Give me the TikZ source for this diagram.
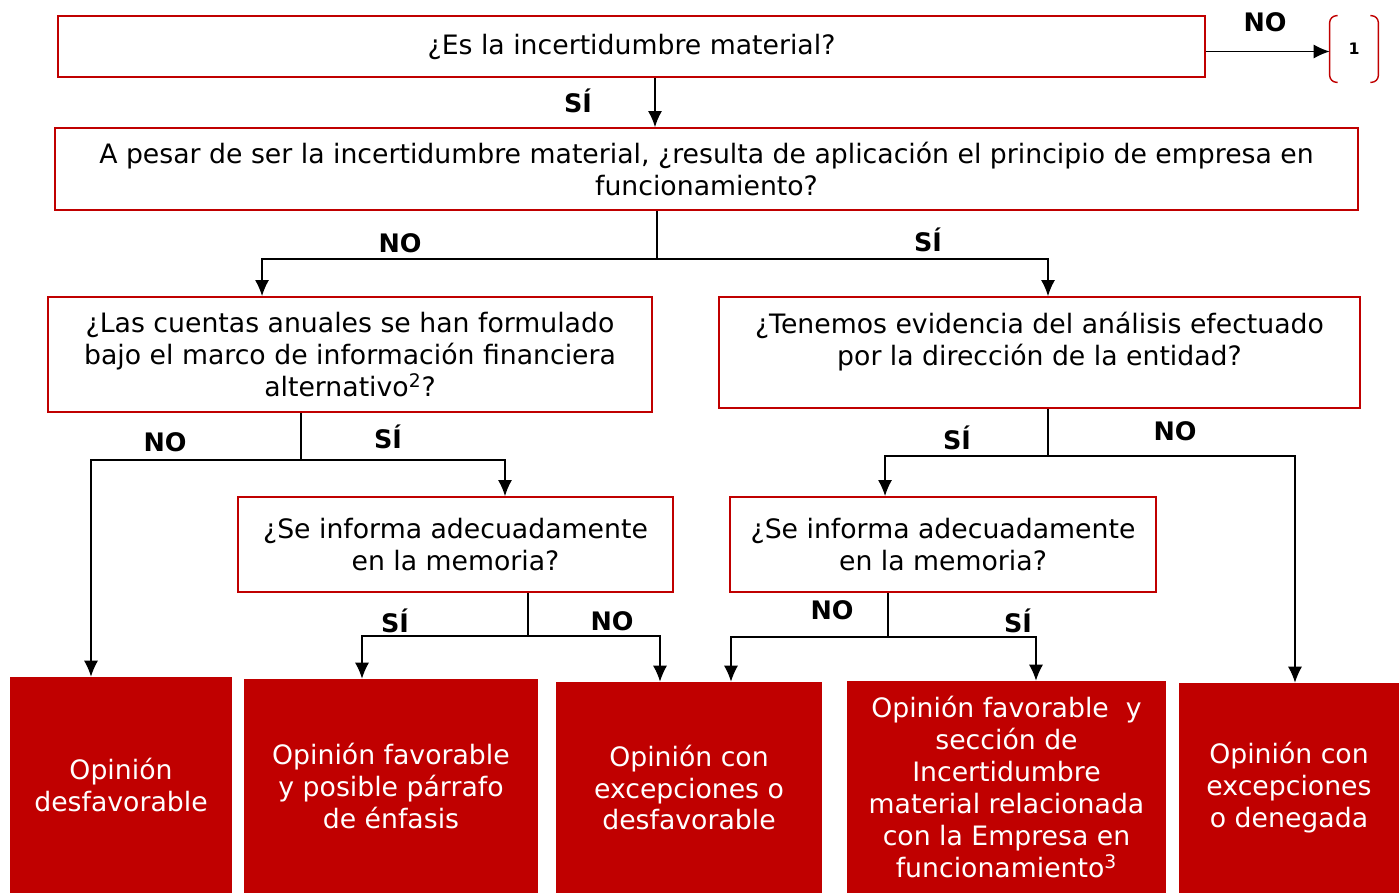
\documentclass[tikz,border=0pt]{standalone}
\usepackage{fontspec}
\setmainfont{DejaVu Sans}
\usetikzlibrary{arrows.meta}
\definecolor{kred}{HTML}{C00000}
\begin{document}
\begin{tikzpicture}[x=0.02cm,y=-0.02cm,
    box/.style={draw=kred,line width=1.1pt,align=center,inner sep=0pt,
      font=\fontsize{15.2pt}{18.2pt}\selectfont},
    endbox/.style={fill=kred,text=white,align=center,inner sep=0pt,
      font=\fontsize{15.2pt}{18.2pt}\selectfont},
    lbl/.style={font=\fontsize{14.5pt}{17pt}\selectfont\bfseries},
    arr/.style={-{Latex[length=0.32cm,width=0.28cm]},line width=0.7pt},
    brk/.style={draw=kred,line width=0.8pt,rounded corners=0.14cm}]
  \useasboundingbox (0,0) rectangle (1399,893);
  % questions
  \node[box,minimum width=22.94cm,minimum height=1.22cm] (q1) at (631.5,46.5)
    {¿Es la incertidumbre material?};
  \node[minimum width=0.96cm,minimum height=1.32cm,inner sep=0pt,
    font=\fontsize{9pt}{10pt}\selectfont\bfseries] (ref) at (1354,49) {1};
  \node[box,minimum width=26.06cm,minimum height=1.64cm] (q2) at (706.5,169)
    {A pesar de ser la incertidumbre material, ¿resulta de aplicación el principio de empresa en\\funcionamiento?};
  \node[box,minimum width=12.08cm,minimum height=2.3cm] (q3l) at (350,354.5)
    {¿Las cuentas anuales se han formulado\\bajo el marco de información financiera\\alternativo\textsuperscript{2}?};
  \node[box,minimum width=12.82cm,minimum height=2.22cm,text depth=0.53cm] (q3r) at (1039.5,352.5)
    {¿Tenemos evidencia del análisis efectuado\\por la dirección de la entidad?};
  \node[box,minimum width=8.7cm,minimum height=1.9cm] (q4l) at (455.5,544.5)
    {¿Se informa adecuadamente\\en la memoria?};
  \node[box,minimum width=8.52cm,minimum height=1.9cm] (q4r) at (943,544.5)
    {¿Se informa adecuadamente\\en la memoria?};
  % outcomes
  \node[endbox,minimum width=4.44cm,minimum height=4.32cm] (b1) at (121,785)
    {Opinión\\desfavorable};
  \node[endbox,minimum width=5.88cm,minimum height=4.28cm] (b2) at (391,786)
    {Opinión favorable\\y posible párrafo\\de énfasis};
  \node[endbox,minimum width=5.32cm,minimum height=4.22cm] (b3) at (689,787.5)
    {Opinión con\\excepciones o\\desfavorable};
  \node[endbox,minimum width=6.38cm,minimum height=4.24cm] (b4) at (1006.5,787)
    {Opinión favorable~ y\\sección de\\Incertidumbre\\material relacionada\\con la Empresa en\\funcionamiento\textsuperscript{3}};
  \node[endbox,minimum width=4.4cm,minimum height=4.2cm] (b5) at (1289,788)
    {Opinión con\\excepciones\\o denegada};
  % bracket round the reference
  \draw[brk] ([xshift=0.16cm]ref.north west) -- (ref.north west)
    -- (ref.south west) -- ([xshift=0.16cm]ref.south west);
  \draw[brk] ([xshift=-0.16cm]ref.north east) -- (ref.north east)
    -- (ref.south east) -- ([xshift=-0.16cm]ref.south east);
  % split points
  \coordinate (s1) at (657,259);
  \coordinate (s2) at (301,460);
  \coordinate (s3) at (1048,456);
  \coordinate (s4) at (528,636);
  \coordinate (s5) at (888,637);
  % connectors
  \draw[arr] ([yshift=-0.1cm]q1.east) -- ([yshift=-0.1cm]q1.east -| ref.west);
  \draw[arr] ([xshift=0.47cm]q1.south) -- ([xshift=0.47cm]q1.south |- q2.north);
  \draw[line width=0.7pt] (s1 |- q2.south) -- (s1);
  \draw[arr] (s1) -| ([xshift=-1.76cm]q3l.north);
  \draw[arr] (s1) -| ([xshift=0.17cm]q3r.north);
  \draw[line width=0.7pt] (s2 |- q3l.south) -- (s2);
  \draw[arr] (s2) -| ([xshift=-0.6cm]b1.north);
  \draw[arr] (s2) -| ([xshift=0.99cm]q4l.north);
  \draw[line width=0.7pt] (s3 |- q3r.south) -- (s3);
  \draw[arr] (s3) -| ([xshift=-1.16cm]q4r.north);
  \draw[arr] (s3) -| ([xshift=0.12cm]b5.north);
  \draw[line width=0.7pt] (s4 |- q4l.south) -- (s4);
  \draw[arr] (s4) -| ([xshift=-0.58cm]b2.north);
  \draw[arr] (s4) -| ([xshift=-0.58cm]b3.north);
  \draw[line width=0.7pt] (s5 |- q4r.south) -- (s5);
  \draw[arr] (s5) -| ([xshift=0.84cm]b3.north);
  \draw[arr] (s5) -| ([xshift=0.59cm]b4.north);
  % answers
  \node[lbl] (n1) at (1265,22) {NO};
  \node[lbl] (y1) at (578,101) {SÍ};
  \node[lbl] (n2) at (400,243) {NO};
  \node[lbl] (y2) at (928,240) {SÍ};
  \node[lbl] (n3) at (165,442) {NO};
  \node[lbl] (y3) at (388,437) {SÍ};
  \node[lbl] (y4) at (957,438) {SÍ};
  \node[lbl] (n4) at (1175,431) {NO};
  \node[lbl] (y5) at (395,621) {SÍ};
  \node[lbl] (n5) at (612,621) {NO};
  \node[lbl] (n6) at (832,610) {NO};
  \node[lbl] (y6) at (1018,621) {SÍ};
\end{tikzpicture}
\end{document}
